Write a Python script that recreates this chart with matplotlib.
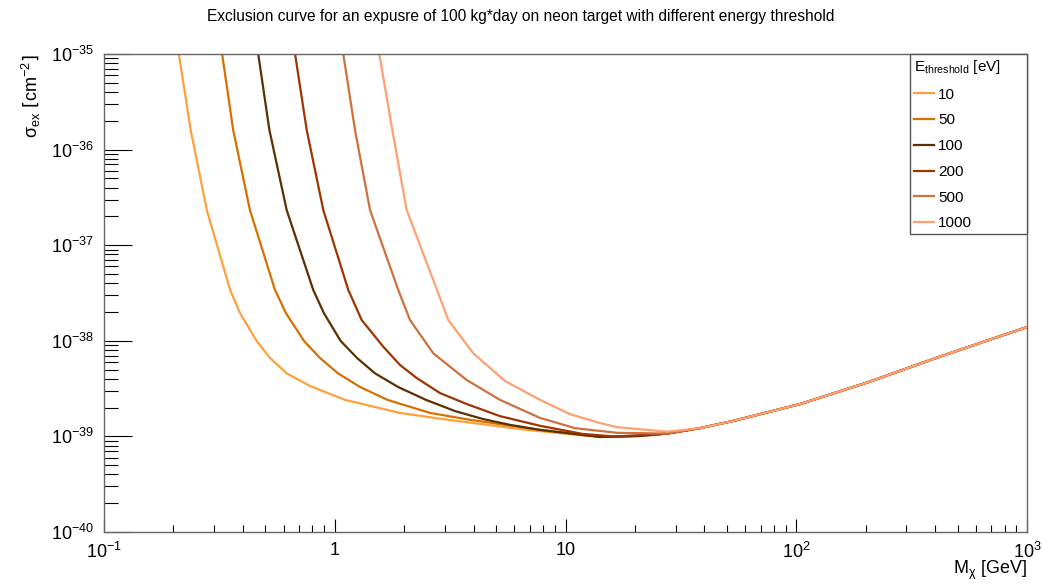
import numpy as np
import matplotlib.pyplot as plt
from matplotlib.ticker import FixedLocator, FixedFormatter, NullFormatter

plt.rcParams['font.family'] = ['Liberation Sans', 'DejaVu Sans']
plt.rcParams['mathtext.default'] = 'regular'

"""Values read off the exclusion plot (mass in GeV, cross section in cm^2)"""
thresholds = ['10', '50', '100', '200', '500', '1000']
colors = ['#ffa03c', '#d67000', '#5c3000', '#a03400', '#d0703c', '#ffa070']

# part where all curves lie on top of each other
tail_mass = [27.5, 38.3, 53.2, 104, 203, 392, 625, 1000]
tail_sigma = [1.07e-39, 1.22e-39, 1.45e-39, 2.18e-39, 3.66e-39, 6.45e-39, 9.48e-39, 1.39e-38]

mass_10 = [0.211, 0.2375, 0.279, 0.352, 0.389, 0.459, 0.524, 0.619, 0.781, 1.108, 1.918, 3.10, 6.81, 11.6, 17.2]
sigma_10 = [1e-35, 1.60e-36, 2.33e-37, 3.40e-38, 1.94e-38, 9.95e-39, 6.61e-39, 4.57e-39, 3.37e-39, 2.41e-39,
            1.76e-39, 1.49e-39, 1.17e-39, 1.03e-39, 0.986e-39]

mass_50 = [0.325, 0.363, 0.429, 0.551, 0.615, 0.736, 0.863, 1.033, 1.286, 1.693, 2.59, 3.86, 7.76, 14.1, 21.0]
sigma_50 = [1e-35, 1.60e-36, 2.33e-37, 3.40e-38, 1.94e-38, 9.95e-39, 6.61e-39, 4.57e-39, 3.29e-39, 2.41e-39,
            1.76e-39, 1.49e-39, 1.17e-39, 0.986e-39, 1.01e-39]

mass_100 = [0.466, 0.521, 0.619, 0.807, 0.898, 1.061, 1.249, 1.494, 1.880, 2.486, 3.32, 4.39, 5.75, 7.76, 14.1,
            21.0]
sigma_100 = [1e-35, 1.60e-36, 2.33e-37, 3.40e-38, 1.94e-38, 9.95e-39, 6.61e-39, 4.57e-39, 3.29e-39, 2.41e-39,
             1.84e-39, 1.52e-39, 1.32e-39, 1.17e-39, 0.986e-39, 1.01e-39]

mass_200 = [0.673, 0.756, 0.892, 1.145, 1.308, 1.623, 1.918, 2.265, 2.858, 3.731, 5.20, 7.76, 11.9, 16.4]
sigma_200 = [1e-35, 1.60e-36, 2.33e-37, 3.40e-38, 1.65e-38, 8.67e-39, 5.58e-39, 4.08e-39, 2.84e-39, 2.18e-39,
             1.63e-39, 1.29e-39, 1.06e-39, 0.997e-39]

mass_500 = [1.089, 1.224, 1.422, 1.885, 2.119, 2.674, 3.731, 5.20, 7.76, 11.0, 16.7]
sigma_500 = [1e-35, 1.60e-36, 2.33e-37, 3.40e-38, 1.65e-38, 7.39e-39, 3.89e-39, 2.41e-39, 1.56e-39, 1.22e-39,
             1.09e-39]

mass_1000 = [1.560, 1.776, 2.050, 2.774, 3.105, 3.985, 5.466, 7.755, 10.46, 14.1, 16.7, 27.5]
sigma_1000 = [1e-35, 1.60e-36, 2.33e-37, 3.40e-38, 1.65e-38, 7.39e-39, 3.80e-39, 2.41e-39, 1.71e-39, 1.38e-39,
              1.25e-39, 1.12e-39]

xtick_vals = [0.1, 1, 10, 100, 1000]
xtick_labels = ['$10^{-1}$', '1', '10', '$10^{2}$', '$10^{3}$']
ytick_vals = [1e-40, 1e-39, 1e-38, 1e-37, 1e-36, 1e-35]
ytick_labels = ['$10^{-40}$', '$10^{-39}$', '$10^{-38}$', '$10^{-37}$', '$10^{-36}$', '$10^{-35}$']

masses = [mass_10, mass_50, mass_100, mass_200, mass_500, mass_1000]
sigmas = [sigma_10, sigma_50, sigma_100, sigma_200, sigma_500, sigma_1000]

"""Plotting"""
fig = plt.figure(figsize=(10.42, 5.85), dpi=100)
ax = fig.add_axes([104/1042, 53/585, 923/1042, 478/585])

for lab, col, m, s in zip(thresholds, colors, masses, sigmas):
    # join each curve onto the common high-mass part
    keep = [i for i, t in enumerate(tail_mass) if t > m[-1]]
    mm = m + [tail_mass[i] for i in keep]
    ss = s + [tail_sigma[i] for i in keep]
    ax.plot(mm, ss, color=col, lw=1.6, label=lab)

ax.set_xscale('log')
ax.set_yscale('log')
ax.set_xlim(0.1, 1000)
ax.set_ylim(1e-40, 1e-35)

ax.xaxis.set_major_locator(FixedLocator(xtick_vals))
ax.xaxis.set_major_formatter(FixedFormatter(xtick_labels))
ax.yaxis.set_major_locator(FixedLocator(ytick_vals))
ax.yaxis.set_major_formatter(FixedFormatter(ytick_labels))
ax.xaxis.set_minor_formatter(NullFormatter())
ax.yaxis.set_minor_formatter(NullFormatter())

ax.tick_params(axis='both', which='both', direction='in', top=False, right=False,
               labelsize=13, width=0.8, color='black')
ax.tick_params(axis='x', which='major', length=9.5, pad=7)
ax.tick_params(axis='x', which='minor', length=5)
ax.tick_params(axis='y', which='major', length=20, pad=7)
ax.tick_params(axis='y', which='minor', length=10)
for sp in ax.spines.values():
    sp.set_color('#666666')
    sp.set_linewidth(1.0)

ax.set_xlabel(r'M$_{\chi}$ [GeV]', fontsize=13, loc='right', labelpad=-2)
ax.set_ylabel(r'$\sigma_{ex}$ $\left[cm^{-2}\right]$', fontsize=13, loc='top', labelpad=6)

fig.text(521/1042, 1 - 16/585, 'Exclusion curve for an expusre of 100 kg*day on neon target with different energy threshold',
         ha='center', va='center', fontsize=11.2)

leg = ax.legend(loc='upper left', bbox_to_anchor=(806/923, 0.6255, 117/923, 0.3745), mode='expand',
                borderaxespad=0, fancybox=False, framealpha=1, edgecolor='#555555', fontsize=11,
                title=r'E$_{threshold}$ [eV]', title_fontsize=11, alignment='left',
                handlelength=1.3, handletextpad=0.3, labelspacing=0.77, borderpad=0.25)
leg.get_frame().set_linewidth(1.0)

fig.savefig('out.png', dpi=100)
